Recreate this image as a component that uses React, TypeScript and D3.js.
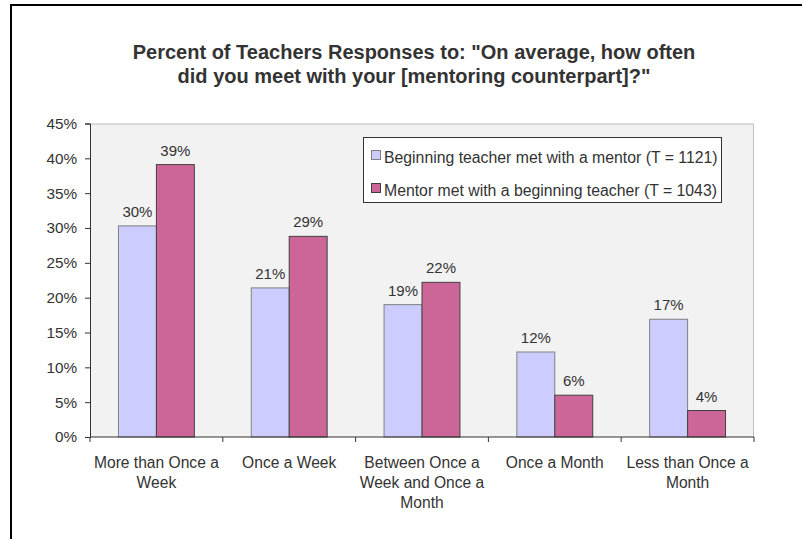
import * as d3 from 'd3';
import React, { useRef, useEffect } from 'react';

const categories = [
  'More than Once a Week',
  'Once a Week',
  'Between Once a Week and Once a Month',
  'Once a Month',
  'Less than Once a Month',
];
// how the category names wrap under the axis
const categoryLines = [
  ['More than Once a', 'Week'],
  ['Once a Week'],
  ['Between Once a', 'Week and Once a', 'Month'],
  ['Once a Month'],
  ['Less than Once a', 'Month'],
];
const seriesNames = [
  'Beginning teacher met with a mentor (T = 1121)',
  'Mentor met with a beginning teacher (T = 1043)',
];
const beginningValues = [0.303, 0.214, 0.19, 0.122, 0.169];
const mentorValues = [0.391, 0.288, 0.222, 0.06, 0.038];
const valueLabels = [
  ['30%', '21%', '19%', '12%', '17%'],
  ['39%', '29%', '22%', '6%', '4%'],
];
const yTicks = [0, 0.05, 0.1, 0.15, 0.2, 0.25, 0.3, 0.35, 0.4, 0.45];

const fills = ['#ccccff', '#cc6699'];
const strokes = ['#808080', '#404040'];
const FONT = '"Liberation Sans", Arial, sans-serif';
const TEXT = '#333333';

const width = 802;
const height = 539;

const App = () => {
  const ref = useRef(null);

  useEffect(() => {
    document.body.style.margin = '0';
    const svg = d3.select(ref.current);
    svg.selectAll('*').remove();

    const left = 90, right = 754, top = 123.5, bottom = 437;

    // outer frame
    svg.append('rect')
      .attr('x', 11).attr('y', 5)
      .attr('width', 820).attr('height', 560)
      .attr('fill', '#ffffff')
      .attr('stroke', '#000000')
      .attr('stroke-width', 2);

    // title
    const title = svg.append('text')
      .attr('text-anchor', 'middle')
      .attr('font-family', FONT)
      .attr('font-size', 20)
      .attr('font-weight', 'bold')
      .attr('fill', TEXT);
    title.append('tspan').attr('x', 414).attr('y', 59)
      .text('Percent of Teachers Responses to: "On average, how often');
    title.append('tspan').attr('x', 414).attr('y', 83)
      .text('did you meet with your [mentoring counterpart]?"');

    const y = d3.scaleLinear().domain([0, 0.45]).range([bottom, top]);
    const x0 = d3.scaleBand().domain(categories).range([left, right]);
    const x1 = d3.scaleBand().domain(seriesNames)
      .range([0, x0.bandwidth()]).paddingOuter(0.75);

    // plot area
    svg.append('rect')
      .attr('x', left).attr('y', top)
      .attr('width', right - left).attr('height', bottom - top)
      .attr('fill', '#f2f2f2');
    svg.append('path')
      .attr('d', `M${left},${top + 0.5}H${right - 0.5}V${bottom}`)
      .attr('fill', 'none')
      .attr('stroke', '#c0c0c0');

    const series = [beginningValues, mentorValues];

    series.forEach((vals, s) => {
      svg.append('g').selectAll('rect')
        .data(vals)
        .enter()
        .append('rect')
        .attr('x', (_, i) => x0(categories[i]) + x1(seriesNames[s]))
        .attr('y', d => y(d))
        .attr('width', x1.bandwidth())
        .attr('height', d => bottom - y(d))
        .attr('fill', fills[s])
        .attr('stroke', strokes[s])
        .attr('stroke-width', 1);

      svg.append('g').selectAll('text')
        .data(vals)
        .enter()
        .append('text')
        .attr('x', (_, i) => x0(categories[i]) + x1(seriesNames[s]) + x1.bandwidth() / 2)
        .attr('y', d => y(d) - 9)
        .attr('text-anchor', 'middle')
        .attr('font-family', FONT)
        .attr('font-size', 15)
        .attr('fill', TEXT)
        .text((_, i) => valueLabels[s][i]);
    });

    // y axis
    const yAxis = svg.append('g')
      .attr('transform', `translate(${left},0)`)
      .call(d3.axisLeft(y).tickValues(yTicks).tickFormat(d3.format('.0%')).tickSize(5).tickPadding(8));
    yAxis.select('.domain').attr('stroke', '#333333');
    yAxis.selectAll('line').attr('stroke', '#333333');
    yAxis.selectAll('text')
      .attr('font-family', FONT)
      .attr('font-size', 15.3)
      .attr('fill', TEXT);

    // x axis with ticks at category boundaries
    const boundaries = categories.map(c => x0(c)).concat([right]);
    svg.append('line')
      .attr('x1', left).attr('x2', right)
      .attr('y1', bottom).attr('y2', bottom)
      .attr('stroke', '#333333');
    svg.append('g').selectAll('line')
      .data(boundaries)
      .enter()
      .append('line')
      .attr('x1', d => d).attr('x2', d => d)
      .attr('y1', bottom).attr('y2', bottom + 5)
      .attr('stroke', '#333333');

    const catLabels = svg.append('g').selectAll('text')
      .data(categories)
      .enter()
      .append('text')
      .attr('text-anchor', 'middle')
      .attr('font-family', FONT)
      .attr('font-size', 15.6)
      .attr('fill', TEXT);
    catLabels.each(function (c, i) {
      const t = d3.select(this);
      categoryLines[i].forEach((line, k) => {
        t.append('tspan')
          .attr('x', x0(c) + x0.bandwidth() / 2)
          .attr('y', 468 + k * 20)
          .text(line);
      });
    });

    // legend
    const lg = svg.append('g');
    lg.append('rect')
      .attr('x', 363.5).attr('y', 137.5)
      .attr('width', 358).attr('height', 65)
      .attr('fill', '#ffffff')
      .attr('stroke', '#333333');
    seriesNames.forEach((name, s) => {
      lg.append('rect')
        .attr('x', 371.5).attr('y', 150.5 + s * 33)
        .attr('width', 9).attr('height', 9)
        .attr('fill', fills[s])
        .attr('stroke', strokes[s]);
      lg.append('text')
        .attr('x', 384).attr('y', 163 + s * 33)
        .attr('font-family', FONT)
        .attr('font-size', 15.8)
        .attr('fill', TEXT)
        .text(name);
    });
  }, []);

  return (
    <svg width={width} height={height} ref={ref} style={{ display: 'block', overflow: 'hidden' }} />
  );
};

export default App;
